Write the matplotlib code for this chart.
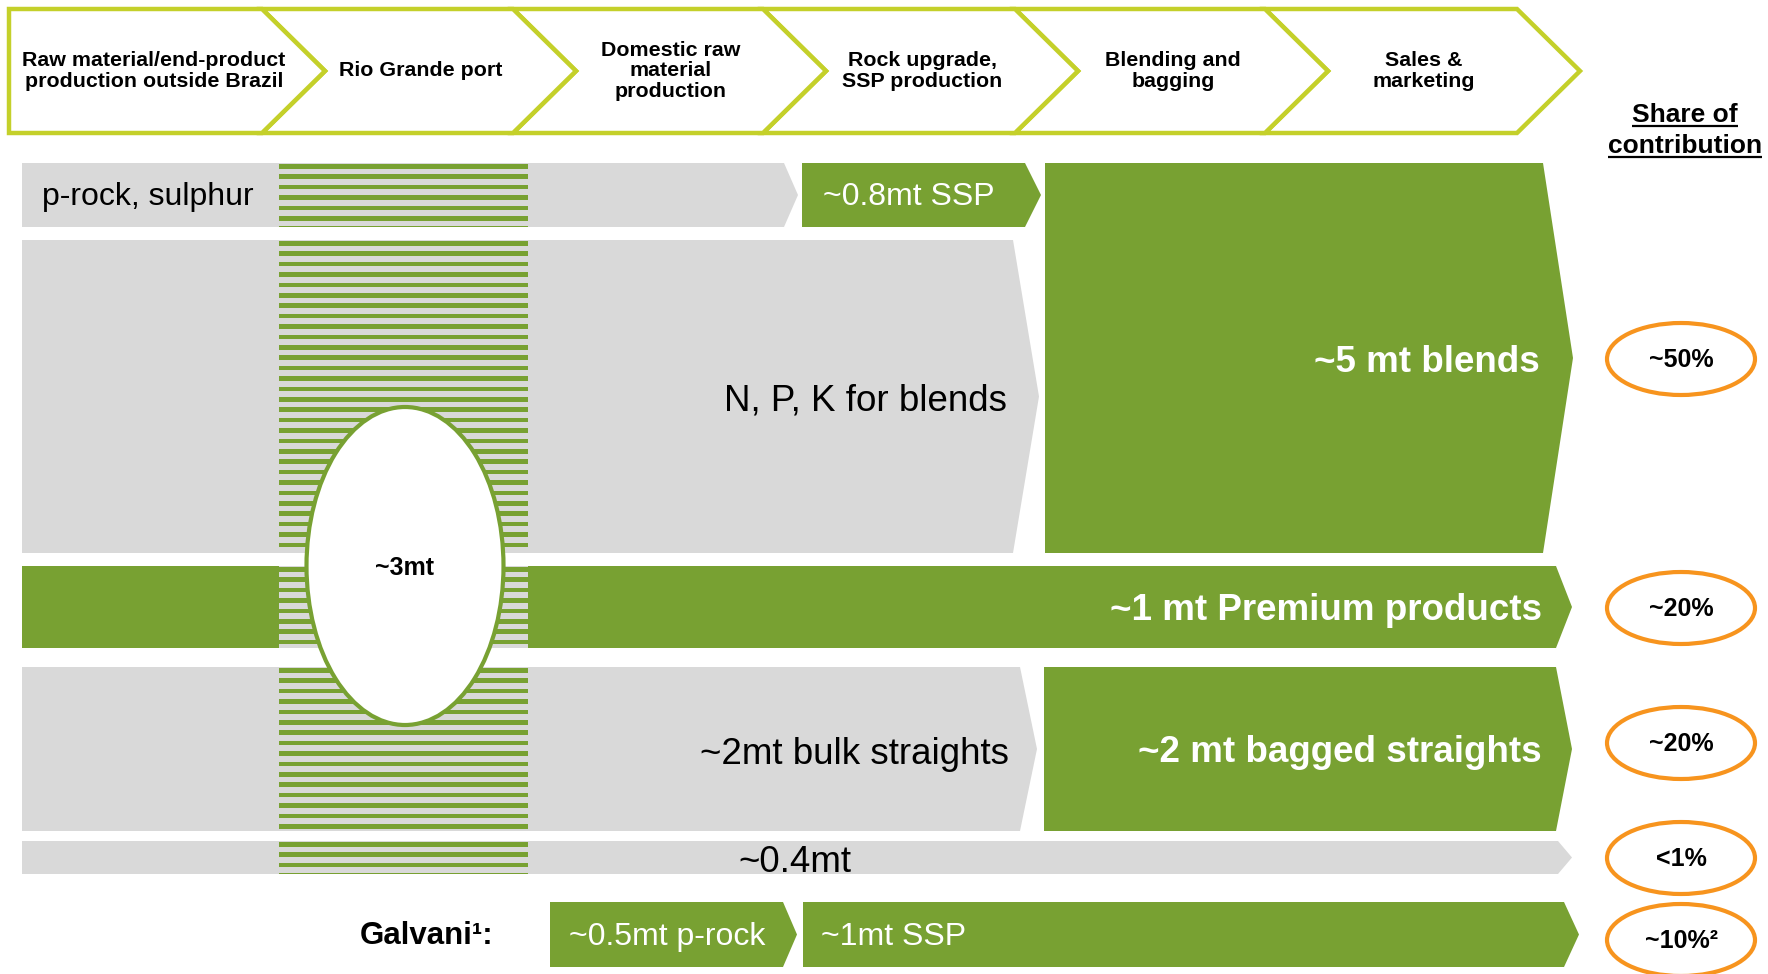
import matplotlib
matplotlib.use("Agg")
import matplotlib.pyplot as plt
from matplotlib.patches import Polygon, Rectangle, Ellipse

GREEN = "#78A132"
GRAY = "#D9D9D9"
LIME = "#C4D02A"
ORANGE = "#F7941E"

plt.rcParams["font.family"] = ["Liberation Sans", "DejaVu Sans"]

# value chain stages (header chevrons)
stages = ["Raw material/end-product\nproduction outside Brazil", "Rio Grande port",
          "Domestic raw\nmaterial\nproduction", "Rock upgrade,\nSSP production",
          "Blending and\nbagging", "Sales &\nmarketing"]
stage_edges = [9, 262, 513, 763, 1015, 1265, 1517]

# flow rows: vertical extent of each band
row_top = [163, 240, 566, 667, 841]
row_bot = [227, 553, 648, 831, 874]

# grey (imported / bulk) flows per row
grey_labels = ["p-rock, sulphur", "N, P, K for blends", None, "~2mt bulk straights", "~0.4mt"]
grey_ends = [784, 1013, None, 1020, 1558]

# green (own production) flows: label, first row, last row, x start, x end
green_labels = ["~0.8mt SSP", "~5 mt blends", "~1 mt Premium products", "~2 mt bagged straights"]
green_first = [0, 0, 2, 3]
green_last = [0, 1, 2, 3]
green_starts = [802, 1045, 22, 1044]
green_ends = [1025, 1543, 1556, 1556]

port_volume = "~3mt"
galvani_label = "Galvani¹:"
galvani_flows = ["~0.5mt p-rock", "~1mt SSP"]
shares = ["~50%", "~20%", "~20%", "<1%", "~10%²"]
share_y = [359, 608, 743, 858, 940]

fig = plt.figure(figsize=(17.68, 9.74), dpi=100)
ax = fig.add_axes([0, 0, 1, 1])
ax.set_xlim(0, 1768)
ax.set_ylim(974, 0)
ax.axis("off")


def arrow(x0, xc, y0, y1, tip, notch=0, **kw):
    ym = (y0 + y1) / 2
    pts = [(x0, y0), (xc, y0), (xc + tip, ym), (xc, y1), (x0, y1)]
    if notch:
        pts.append((x0 + notch, ym))
    ax.add_patch(Polygon(pts, closed=True, **kw))


# header chevrons
for i, name in enumerate(stages):
    x0, x1 = stage_edges[i], stage_edges[i + 1]
    arrow(x0, x1, 9, 133, 63, notch=63 if i else 0, facecolor="white",
          edgecolor=LIME, lw=3.2, joinstyle="miter", zorder=2 + (len(stages) - i) * 0.01)
    cx = 154 if i == 0 else (x0 + x1) / 2 + 33
    ax.text(cx, 71, name, ha="center", va="center", fontsize=15.4, weight="bold",
            linespacing=1.12, zorder=3)

# grey bands
for i in range(5):
    if grey_ends[i] is None:
        continue
    tip = 14 if i in (0, 4) else 26 if i == 1 else 17
    arrow(22, grey_ends[i], row_top[i], row_bot[i], tip, facecolor=GRAY, lw=0, zorder=1)

# green bands
for lab, r0, r1, xs, xe in zip(green_labels, green_first, green_last, green_starts, green_ends):
    y0, y1 = row_top[r0], row_bot[r1]
    tip = 30 if r1 > r0 else 16
    arrow(xs, xe, y0, y1, tip, facecolor=GREEN, lw=0, zorder=1.5)
    ym = (y0 + y1) / 2
    if r1 == 0:
        ax.text(xs + 21, ym + 2, lab, color="white", fontsize=23, va="center", zorder=4)
    else:
        pad = 3 if r1 > r0 else 14
        ax.text(xe - pad, ym + 4, lab, color="white", fontsize=26.5, weight="bold",
                ha="right", va="center", zorder=4)

# grey labels
ax.text(42, 197, grey_labels[0], fontsize=23, va="center", zorder=4)
ax.text(1007, 401, grey_labels[1], fontsize=26.5, ha="right", va="center", zorder=4)
ax.text(1009, 754, grey_labels[3], fontsize=26.5, ha="right", va="center", zorder=4)
ax.text(795, 863, grey_labels[4], fontsize=26.5, ha="center", va="center", zorder=4)

# striped port column
sx0, sx1 = 279, 528
period, thick = 10.4, 4.6
for y0, y1 in zip(row_top, row_bot):
    ax.add_patch(Rectangle((sx0, y0), sx1 - sx0, y1 - y0, facecolor=GRAY, lw=0, zorder=2))
    y = y0 + 1
    while y < y1:
        h = min(thick, y1 - y)
        ax.add_patch(Rectangle((sx0, y), sx1 - sx0, h, facecolor=GREEN, lw=0, zorder=2.1))
        y += period

# port throughput ellipse
ax.add_patch(Ellipse((405, 566), 197, 318, facecolor="white", edgecolor=GREEN, lw=3, zorder=5))
ax.text(404, 568, port_volume, fontsize=18, weight="bold", ha="center", va="center", zorder=6)

# Galvani row
gy0, gy1 = 902, 967
ax.text(493, 936, galvani_label, fontsize=22.5, weight="bold", ha="right", va="center")
arrow(550, 783, gy0, gy1, 14, facecolor=GREEN, lw=0, zorder=1)
arrow(803, 1564, gy0, gy1, 15, facecolor=GREEN, lw=0, zorder=1)
ax.text(569, 937, galvani_flows[0], fontsize=23, color="white", va="center", zorder=4)
ax.text(821, 937, galvani_flows[1], fontsize=23, color="white", va="center", zorder=4)

# share of contribution
t1 = ax.text(1685, 122, "Share of", fontsize=19, weight="bold", ha="center", va="baseline")
t2 = ax.text(1685, 153, "contribution", fontsize=19, weight="bold", ha="center", va="baseline")
fig.canvas.draw()
inv = ax.transData.inverted()
for t, yb in ((t1, 122), (t2, 153)):
    bb = t.get_window_extent()
    (xa, _), (xb, _) = inv.transform([(bb.x0, bb.y0), (bb.x1, bb.y1)])
    ax.plot([xa, xb], [yb + 4, yb + 4], color="black", lw=1.6, solid_capstyle="butt")

for s, y in zip(shares, share_y):
    ax.add_patch(Ellipse((1681, y), 148, 72, facecolor="white", edgecolor=ORANGE, lw=3, zorder=3))
    ax.text(1681, y + 1, s, fontsize=18, weight="bold", ha="center", va="center", zorder=4)

fig.savefig("out.png", dpi=100)
